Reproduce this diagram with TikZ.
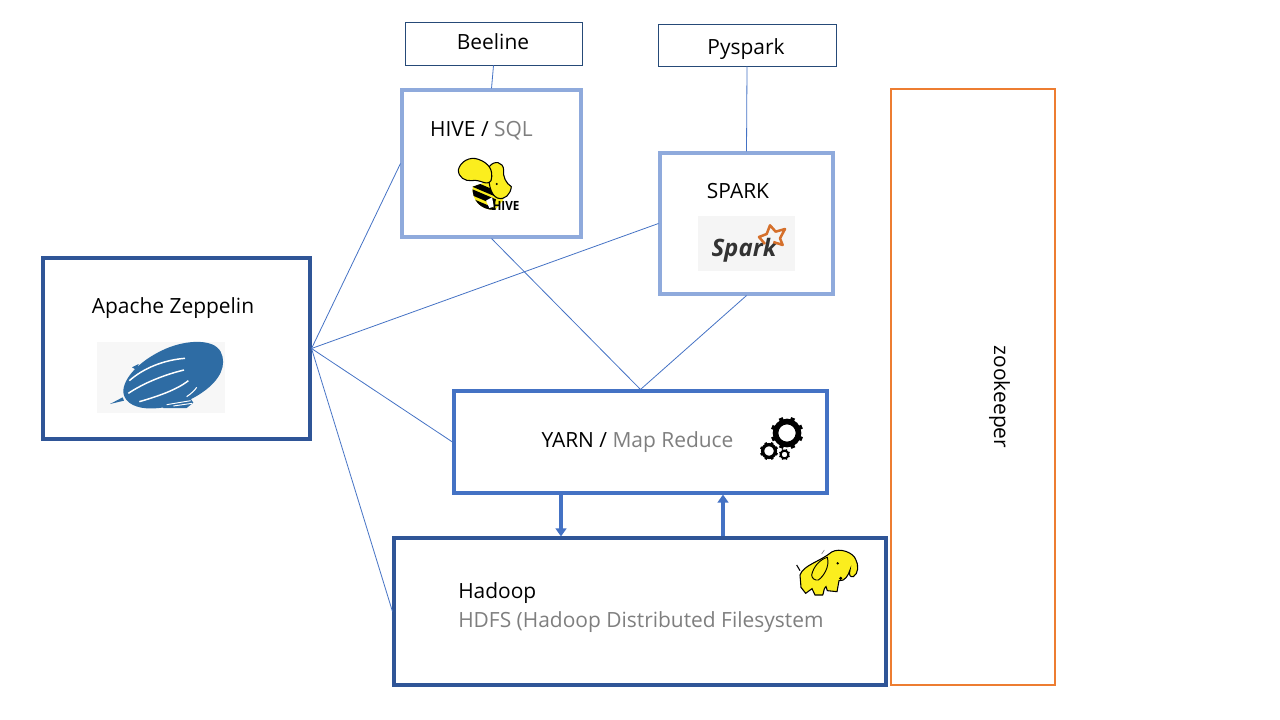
\documentclass[tikz,border=0pt]{standalone}
\usepackage{fontspec}
\setmainfont{Open Sans}
\usetikzlibrary{calc}
\usetikzlibrary{arrows.meta}

\definecolor{darkblue}{HTML}{2F5597}
\definecolor{slateblue}{HTML}{264A78}
\definecolor{midblue}{HTML}{4472C4}
\definecolor{paleblue}{HTML}{8FAADC}
\definecolor{zkorange}{HTML}{ED7D31}
\definecolor{softgray}{HTML}{7F7F7F}
\definecolor{logoblue}{HTML}{2E6CA4}
\definecolor{logoyellow}{HTML}{FBEE1E}

\tikzset{
    box/.style={draw, fill=white, rectangle, inner sep=0pt},
    outerbox/.style={box, draw=darkblue, line width=2.3pt},
    upperbox/.style={box, draw=paleblue, line width=2.3pt},
    yarnbox/.style={box, draw=midblue, line width=2.3pt},
    clientbox/.style={box, draw=slateblue, line width=0.7pt},
    label/.style={inner sep=0pt, font=\fontsize{15.7}{18}\selectfont},
    link/.style={draw=midblue, line width=0.6pt},
    flow/.style={draw=midblue, line width=2.3pt, -{Triangle[length=6pt,width=8pt]}}
}

\begin{document}
\begin{tikzpicture}[x=0.75pt, y=-0.75pt]
    \useasboundingbox (0,0) rectangle (1280,720);

    % boxes
    \node[outerbox, minimum width=200.25pt, minimum height=135.75pt] (zeppelin) at (176.5,348.5) {};
    \node[upperbox, minimum width=134.25pt, minimum height=110.25pt] (hive) at (491.5,163.5) {};
    \node[upperbox, minimum width=129.75pt, minimum height=105.75pt] (spark) at (746.5,223.5) {};
    \node[yarnbox, minimum width=279.75pt, minimum height=76.5pt] (yarn) at (640.5,442) {};
    \node[outerbox, minimum width=369pt, minimum height=110.25pt] (hadoop) at (640,611.5) {};
    \node[clientbox, minimum width=132.75pt, minimum height=32.25pt] (beeline) at (493.5,43.5) {};
    \node[clientbox, minimum width=133.5pt, minimum height=31.5pt] (pyspark) at (747,45) {};
    \node[box, draw=zkorange, line width=1.5pt, minimum width=123pt, minimum height=447pt] (zookeeper) at (973,387) {};

    % connectors
    \draw[link] (beeline.south) -- (hive.north);
    \draw[link] (pyspark.south) -- (spark.north);
    \draw[link] (zeppelin.east) -- (hive.west);
    \draw[link] (zeppelin.east) -- (spark.west);
    \draw[link] (zeppelin.east) -- (yarn.west);
    \draw[link] (zeppelin.east) -- (hadoop.west);
    \draw[link] (hive.south) -- (yarn.north);
    \draw[link] (spark.south) -- (yarn.north);

    % arrows between yarn and hadoop
    \coordinate (downlink) at (561,500);
    \coordinate (uplink) at (723,500);
    \draw[flow] (downlink |- yarn.south) -- (downlink |- hadoop.north);
    \draw[flow] (uplink |- hadoop.north) -- (uplink |- yarn.south);

    % texts
    \node[label] (beelinetext) at (493,42) {Beeline};
    \node[label] (pysparktext) at (746,49) {Pyspark};
    \node[label] (zeppelintext) at (173,308) {Apache Zeppelin};
    \node[label] (hivetext) at (481.5,130.5) {HIVE / \textcolor{softgray}{SQL}};
    \node[label] (sparktext) at (738,191) {SPARK};
    \node[label] (yarntext) at (637.5,442.5) {YARN / \textcolor{softgray}{Map Reduce}};
    \node[label, anchor=west] (hadooptext) at (458,593.5) {Hadoop};
    \node[label, anchor=west, text=softgray] (hdfstext) at (458,622.5) {HDFS (Hadoop Distributed Filesystem};
    \node[label, rotate=-90] (zookeepertext) at (999.5,397) {zookeeper};

    % zeppelin logo
    \begin{scope}[shift={(30,250)}, scale=1/3]
        \fill[black!3] (201,276) rectangle (585,488);
        \fill[logoblue] (280,420) .. controls (285,375) and (340,325) .. (410,295)
            .. controls (470,270) and (550,265) .. (572,305)
            .. controls (592,345) and (570,390) .. (520,425)
            .. controls (470,462) and (400,478) .. (350,475)
            .. controls (305,472) and (278,450) .. (280,420) -- cycle;
        \fill[logoblue] (240,462) -- (278,442) -- (282,452) -- cycle;
        \fill[logoblue] (306,352) -- (326,342) -- (320,360) -- cycle;
        \draw[white, line width=1.1pt] (298,392) .. controls (340,355) and (400,330) .. (465,325);
        \draw[white, line width=1.1pt] (295,430) .. controls (340,400) and (400,375) .. (462,360);
        \draw[white, line width=1.1pt] (328,455) .. controls (380,440) and (440,420) .. (475,392);
        \draw[white, line width=0.8pt] (470,440) .. controls (485,430) and (495,420) .. (500,412);
        \fill[logoblue] (398,466) -- (482,446) -- (490,458) -- (470,474) -- (400,474) -- cycle;
        \draw[white, line width=0.7pt] (410,464) -- (482,452);
        \draw[white, line width=0.7pt] (430,468) -- (486,460);
    \end{scope}

    % hive logo
    \begin{scope}[shift={(390,10)}, scale=1/3]
        % bee body
        \begin{scope}
            \clip (248,530) .. controls (245,570) and (270,600) .. (315,600)
                -- (340,570) -- (320,505) -- cycle;
            \fill[logoyellow] (240,500) rectangle (345,605);
            \foreach \bandy in {518,544,572}
                \draw[black, line width=4.2pt] (240,\bandy) -- ++(75,32);
        \end{scope}
        % head with trunk
        \draw[black, fill=logoyellow, line width=0.8pt] (298,470) .. controls (312,450) and (340,455) .. (341,480)
            .. controls (338,500) and (348,520) .. (364,530)
            .. controls (362,552) and (345,572) .. (322,564)
            .. controls (302,555) and (292,520) .. (298,470) -- cycle;
        % big ear
        \draw[black, fill=logoyellow, line width=0.8pt] (205,480) .. controls (210,455) and (240,438) .. (265,448)
            .. controls (295,458) and (312,480) .. (303,512)
            .. controls (290,530) and (270,506) .. (245,512)
            .. controls (225,514) and (205,502) .. (205,480) -- cycle;
        \fill[black] (320,522) circle (3.5);
        \fill[white] (288,572) -- (306,562) -- (312,590) -- (298,594) -- cycle;
        \node[inner sep=0pt, xscale=0.92, font=\fontsize{9.5}{10}\bfseries\selectfont] (hivelogo) at (348,588) {HIVE};
    \end{scope}

    % spark logo
    \fill[black!4] (698,216) rectangle (795,271);
    \node[inner sep=0pt, text=black!80, font=\fontsize{18}{20}\bfseries\itshape\selectfont] (sparklogo) at (744,250) {Spark};
    \begin{scope}[shift={(390,10)}, scale=1/3]
        \draw[zkorange!90!black, line width=1.9pt, line join=round]
            (1125,702) -- (1107,681) -- (1130,672) -- (1140,646) -- (1157,665) -- (1185,657) -- (1170,685) -- (1178,705) -- (1150,696);
    \end{scope}

    % gears
    \foreach \gearx/\geary/\gearr/\gearw in {787/433/11.5/4.2, 769/451/6.4/2.5, 784.5/454.5/3.9/1.5}{
        \draw[black, line width=\gearw pt] (\gearx,\geary) circle (\gearr);
        \foreach \gearangle in {0,45,...,315}
            \draw[black, line width=0.75*\gearw pt] (\gearx,\geary) ++(\gearangle+22:\gearr) -- ++(\gearangle+22:0.42*\gearr);
    }

    % hadoop logo
    \begin{scope}[shift={(690,400)}, scale=1/3]
        \draw[black, fill=logoyellow, line width=0.8pt] (330,525) .. controls (340,495) and (390,485) .. (425,456)
            .. controls (450,442) and (490,458) .. (497,478)
            .. controls (507,495) and (505,522) .. (490,530)
            .. controls (480,533) and (476,524) .. (480,510)
            .. controls (475,525) and (465,545) .. (447,542)
            -- (441,575) -- (412,572) -- (408,560)
            .. controls (400,565) and (402,578) .. (398,585)
            -- (375,585) -- (366,566) -- (347,580) -- (333,562) -- cycle;
        \draw[black, line width=0.8pt] (330,512) -- (320,495);
        \draw[black!50, line width=0.5pt] (395,462) -- (403,450);
        \draw[black, fill=logoyellow, line width=0.7pt] (365,525) .. controls (370,500) and (390,478) .. (412,472)
            .. controls (420,500) and (400,530) .. (385,540)
            .. controls (375,542) and (365,535) .. (365,525) -- cycle;
        \fill[black] (443,490) circle (4);
        \fill[black] (452,535) circle (5);
    \end{scope}
\end{tikzpicture}
\end{document}
